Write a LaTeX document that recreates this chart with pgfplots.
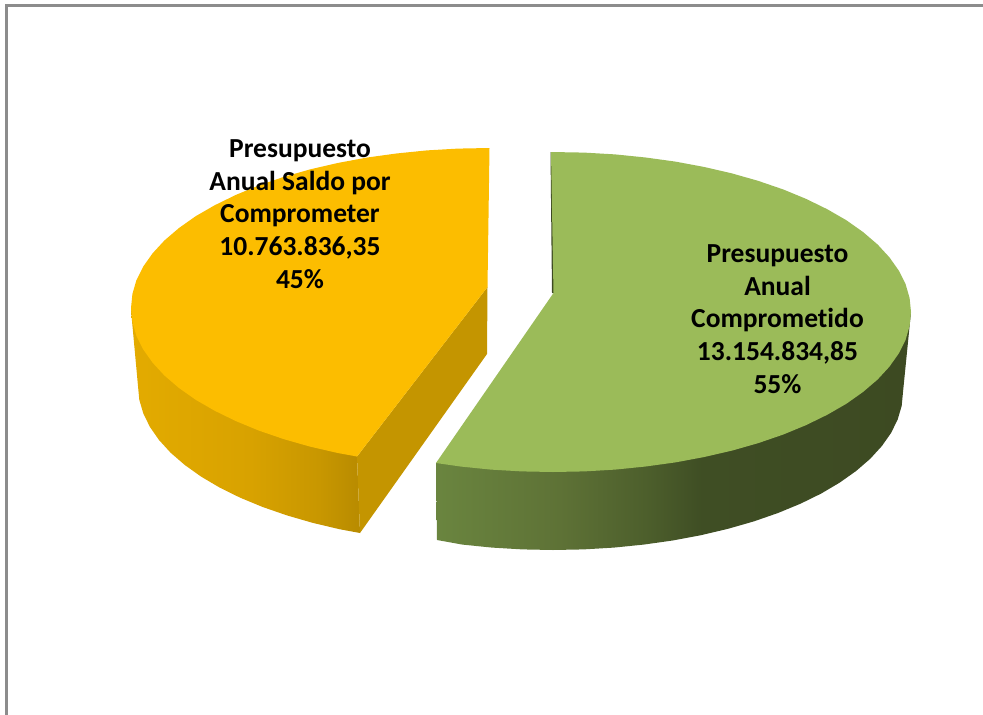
\documentclass[border=0pt]{standalone}
\usepackage{fontspec}
\setmainfont{Carlito}[Ligatures=NoCommon]
\usepackage{pgfplots}
\pgfplotsset{compat=1.18}
\definecolor{gtop}{HTML}{9BBB59}
\definecolor{otop}{HTML}{FCBD00}
\definecolor{oface}{HTML}{C49500}
\definecolor{gdark}{HTML}{3D4A22}
\definecolor{frame}{HTML}{8C8C8C}
\definecolor{ga}{HTML}{6A853F}\definecolor{gb}{HTML}{5E7236}\definecolor{gc}{HTML}{4D5F2C}\definecolor{gd}{HTML}{3F4E24}\definecolor{ge}{HTML}{3D4A22}
\definecolor{oa}{HTML}{E3AB00}\definecolor{ob}{HTML}{D8A200}\definecolor{oc}{HTML}{C89700}\definecolor{od}{HTML}{B88B00}
\pgfdeclarehorizontalshading{greenside}{100bp}{color(0bp)=(ga); color(25bp)=(ga); color(38bp)=(gb); color(47bp)=(gc); color(53bp)=(gd); color(75bp)=(ge); color(100bp)=(ge)}
\pgfdeclarehorizontalshading{orangeside}{100bp}{color(0bp)=(oa); color(25bp)=(oa); color(51bp)=(ob); color(66bp)=(oc); color(75bp)=(od); color(100bp)=(od)}
\begin{document}
\begin{tikzpicture}
\begin{axis}[
  width=983pt, height=715pt, scale only axis,
  xmin=0, xmax=983, ymin=0, ymax=715, y dir=reverse,
  axis line style={draw=none}, ticks=none, clip=true]
% frame
\addplot[frame, line width=2.7pt] coordinates {(6.3,715) (6.3,5.3) (983,5.3)};
% orange side
\addplot[shading=orangeside, draw=none] coordinates {
 (357,456.5)(360,533)(339.5,529.2)(312.5,522.8)(287,515.4)(262.7,507)(240.2,497.7)(219.7,487.6)(201.1,476.6)(184.8,465)(170.7,452.8)(159,440)(149.9,426.9)(143.3,413.4)(139.3,399.8)(138,386)(131,310)} -- cycle;
% orange inner face
\addplot[fill=oface, draw=none] coordinates {(487.5,287)(357,456.5)(360,533)(487,354)} -- cycle;
% orange top
\addplot[fill=otop, draw=none] coordinates {
 (487.5,287)(489.5,148)(457.8,148.6)(426.8,150.4)(396.3,153.5)(366.6,157.6)(337.7,163)(310,169.4)(283.7,176.9)(258.9,185.4)(235.9,194.9)(214.8,205.2)(195.7,216.2)(179,228)(164.5,240.4)(152.6,253.3)(143.2,266.6)(136.4,280.2)(132.4,294)(131,308)(132.4,322)(136.4,335.8)(143.2,349.4)(152.6,362.7)(164.5,375.6)(179,388)(195.7,399.8)(214.8,410.8)(235.9,421.1)(258.9,430.6)(283.7,439.1)(310,446.6)(337.7,453)(357,456.5)} -- cycle;
% green side
\addplot[shading=greenside, draw=none] coordinates {
 (436,463)(437,540)(462.4,544.6)(492.2,547.6)(522.5,549.4)(553,550)(583.5,549.4)(613.8,547.6)(643.6,544.6)(672.7,540.5)(700.9,535.2)(728,528.8)(753.8,521.4)(778,513)(800.5,503.7)(821.1,493.6)(839.7,482.6)(856.1,471)(870.2,458.8)(881.9,446)(891.1,432.9)(897.7,419.4)(901.7,405.8)(903,392)(911,312)} -- cycle;
% green inner strip
\addplot[fill=gdark, draw=none] coordinates {(550.5,152)(552,293)(554,293)(551.5,152)} -- cycle;
% green top
\addplot[fill=gtop, draw=none] coordinates {
 (553.5,293)(551,152)(584.2,152.6)(615.2,154.4)(645.7,157.5)(675.4,161.6)(704.3,167)(732,173.4)(758.3,180.9)(783.1,189.4)(806.1,198.9)(827.2,209.2)(846.3,220.2)(863,232)(877.5,244.4)(889.4,257.3)(898.8,270.6)(905.6,284.2)(909.6,298)(911,312)(909.6,326)(905.6,339.8)(898.8,353.4)(889.4,366.7)(877.5,379.6)(863,392)(846.3,403.8)(827.2,414.8)(806.1,425.1)(783.1,434.6)(758.3,443.1)(732,450.6)(704.3,457)(675.4,462.4)(645.7,466.5)(615.2,469.6)(584.2,471.4)(553,472)(521.8,471.4)(490.8,469.6)(460.3,466.5)(436,463)} -- cycle;
% labels
\node[align=center, font=\fontsize{27.5}{32.8}\selectfont\bfseries, text=black, inner sep=0pt] at (axis cs:300,214)
 {Presupuesto\\Anual Saldo por\\Comprometer\\10.763.836,35\\45\%};
\node[align=center, font=\fontsize{27.5}{32.8}\selectfont\bfseries, text=black, inner sep=0pt] at (axis cs:777.5,319)
 {Presupuesto\\Anual\\Comprometido\\13.154.834,85\\55\%};
\end{axis}
\end{tikzpicture}
\end{document}
